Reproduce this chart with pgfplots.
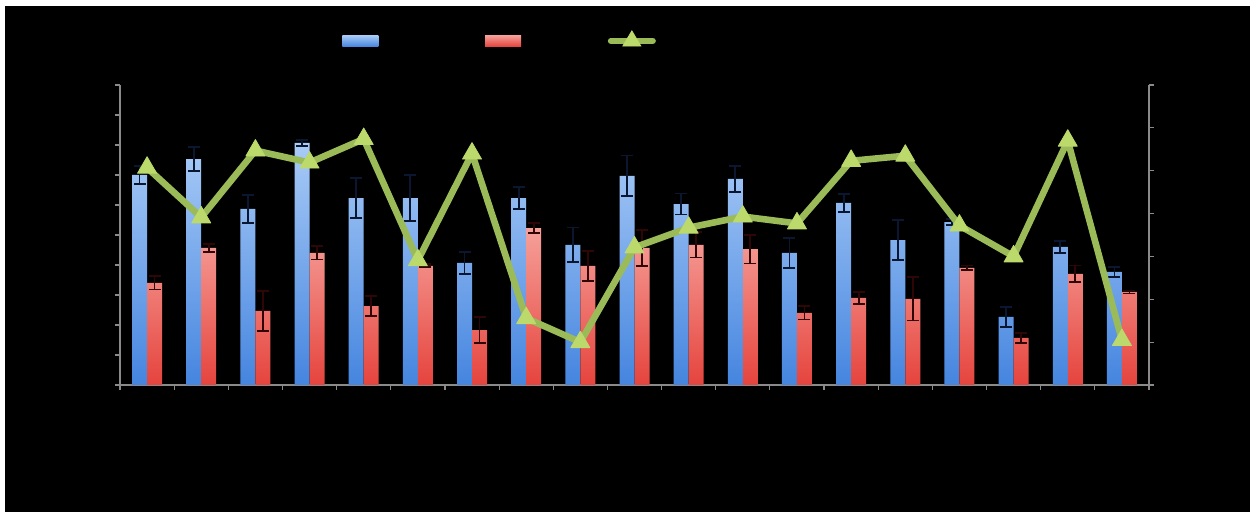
\documentclass[border=0pt]{standalone}
\usepackage{pgfplots}
\pgfplotsset{compat=1.18}
\usetikzlibrary{shadings}
\definecolor{axgray}{HTML}{8A8A8A}
\definecolor{bluetop}{HTML}{A9CBF7}
\definecolor{bluebot}{HTML}{4585DF}
\definecolor{bluedark}{HTML}{0B1630}
\definecolor{redtop}{HTML}{F6A09A}
\definecolor{redbot}{HTML}{E5443D}
\definecolor{reddark}{HTML}{2E0606}
\definecolor{linegreen}{HTML}{9BBB59}
\definecolor{markgreen}{HTML}{BCD96C}
\pgfplotstableread{
x y e
1 7.00 0.30
2 7.53 0.40
3 5.87 0.47
4 8.07 0.10
5 6.23 0.66
6 6.23 0.77
7 4.07 0.37
8 6.23 0.36
9 4.67 0.58
10 6.97 0.68
11 6.03 0.35
12 6.87 0.43
13 4.40 0.50
14 6.07 0.30
15 4.83 0.67
16 5.43 0.10
17 2.27 0.33
18 4.60 0.20
19 3.77 0.17
}\bluedata
\pgfplotstableread{
x y e
1 3.40 0.22
2 4.57 0.13
3 2.47 0.67
4 4.40 0.22
5 2.63 0.33
6 3.97 0.05
7 1.83 0.44
8 5.23 0.17
9 3.97 0.50
10 4.57 0.60
11 4.67 0.42
12 4.53 0.48
13 2.40 0.22
14 2.90 0.20
15 2.87 0.72
16 3.90 0.08
17 1.57 0.17
18 3.70 0.28
19 3.10 0.05
}\reddata
\pgfplotstableread{
x y
1 5.07
2 3.91
3 5.47
4 5.19
5 5.74
6 2.91
7 5.40
8 1.56
9 1.00
10 3.21
11 3.67
12 3.93
13 3.77
14 5.23
15 5.35
16 3.72
17 3.00
18 5.70
19 1.05
}\linedata
\begin{document}
\begin{tikzpicture}
\fill[white] (-60pt,-66pt) rectangle (567pt,192.5pt);
\fill[black] (-57.5pt,-63.5pt) rectangle (565pt,189.5pt);
\begin{axis}[
  at={(0pt,0pt)}, anchor=south west, scale only axis,
  width=514.5pt, height=150pt,
  xmin=0.5, xmax=19.5, ymin=0, ymax=10,
  axis x line*=bottom, axis y line*=left,
  axis line style={-, axgray, line width=0.7pt},
  xtick={0.5,1.5,...,19.5}, xticklabels={},
  ytick={0,1,...,10}, yticklabels={},
  tick align=outside, major tick length=2.5pt,
  tick style={axgray, line width=0.6pt},
  ybar=0pt, bar width=7.5pt,
  legend style={at={(0.2157,1.147)}, anchor=west, draw=none, fill=none,
    inner xsep=0pt, font=\footnotesize, text=black,
    /tikz/column 2/.style={column sep=21pt},
    /tikz/column 4/.style={column sep=11pt}},
  legend columns=3,
]
\addplot[draw=none, top color=bluetop, bottom color=bluebot,
  legend image code/.code={\fill[bottom color=bluebot, top color=bluetop] (0pt,-2.75pt) rectangle (18pt,2.75pt);},
  error bars/.cd, y dir=both, y explicit,
  error bar style={draw=bluedark, line width=0.9pt},
  error mark options={rotate=90, mark size=3pt, draw=bluedark, line width=0.9pt}]
  table[x=x, y=y, y error=e] {\bluedata};
\addlegendentry{Series 1}
\addplot[draw=none, top color=redtop, bottom color=redbot,
  legend image code/.code={\fill[bottom color=redbot, top color=redtop] (0pt,-2.75pt) rectangle (18pt,2.75pt);},
  error bars/.cd, y dir=both, y explicit,
  error bar style={draw=reddark, line width=0.9pt},
  error mark options={rotate=90, mark size=3pt, draw=reddark, line width=0.9pt}]
  table[x=x, y=y, y error=e] {\reddata};
\addlegendentry{Series 2}
\addlegendimage{legend image code/.code={
  \draw[linegreen, line width=3pt, line cap=round] (0pt,0pt) -- (21pt,0pt);
  \fill[markgreen] (10.5pt,5pt) -- (6pt,-2.6pt) -- (15pt,-2.6pt) -- cycle;}}
\addlegendentry{Series 3}
\end{axis}
\begin{axis}[
  at={(0pt,0pt)}, anchor=south west, scale only axis,
  width=514.5pt, height=150pt,
  xmin=0.5, xmax=19.5, ymin=0, ymax=7,
  axis x line=none, axis y line*=right,
  axis line style={-, axgray, line width=0.7pt},
  ytick={0,1,...,7}, yticklabels={},
  tick align=outside, major tick length=2.5pt,
  tick style={axgray, line width=0.6pt},
]
\addplot[color=linegreen, line width=3.3pt, line join=round,
  mark=triangle*, mark size=5.5pt,
  mark options={fill=markgreen, draw=markgreen, line width=0.4pt}]
  table[x=x, y=y] {\linedata};
\end{axis}
\end{tikzpicture}
\end{document}
